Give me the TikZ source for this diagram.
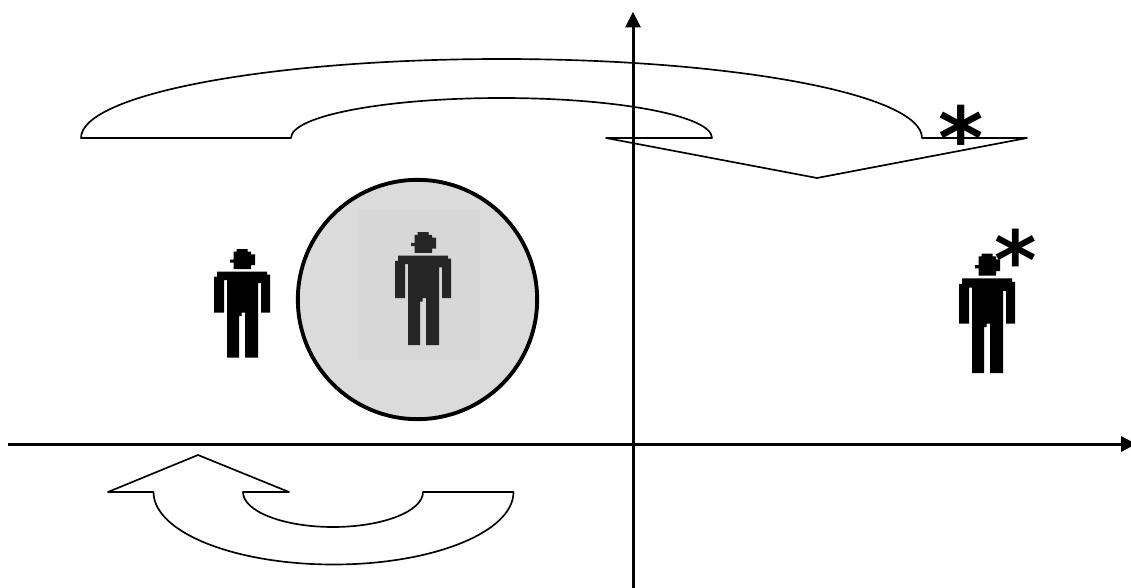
\documentclass[tikz,border=0pt]{standalone}
\usepackage{fontspec}
\setmainfont{DejaVu Sans}
\newcommand{\personshape}[1]{%
  \fill[#1] (3,22.7)--(53,22.7)--(53,25.7)--(56,25.7)--(56,63.7)--(47,63.7)--(47,34)--(44,34)--(44,108.7)--(31,108.7)--(31,63.7)--(27.7,63.7)--(27.7,67)--(25,67)--(25,108.7)--(13,108.7)--(13,31)--(10,31)--(10,63.7)--(0,63.7)--(0,27.7)--(3,27.7)--cycle;
  \fill[#1] (22.5,0)--(33.5,0)--(33.5,2.7)--(37,2.7)--(37,5.3)--(41,5.3)--(41,16)--(37,16)--(37,20)--(19.5,20)--(19.5,13.5)--(16,13.5)--(16,10.5)--(19.5,10.5)--(19.5,2.7)--(22.5,2.7)--cycle;
}
\tikzset{
  outline/.style={draw=black,line width=1.25pt,fill=none,line join=round},
  axis/.style={draw=black,line width=2.25pt},
  tip/.style={fill=black,draw=none},
  mark star/.style={font=\fontsize{#1}{#1}\selectfont\bfseries,inner sep=0pt,text=black}
}
\begin{document}
\begin{tikzpicture}[x=0.75pt,y=-0.75pt]
\useasboundingbox (0,0) rectangle (1131,588);
% circle with picture backdrop
\node[circle,draw=black,line width=2.9pt,fill=black!14,minimum size=179.5pt,inner sep=0pt] (disc) at (417.5,299.5) {};
\fill[black!15.5] (357,209) rectangle (480,360);
% persons
\begin{scope}[shift={(214,249)}]\personshape{black}\end{scope}
\begin{scope}[shift={(395,232)},yscale=1.04]\personshape{black!85}\end{scope}
\begin{scope}[shift={(959,253.5)},yscale=1.10]\personshape{black}\end{scope}
% axes
\coordinate (xs) at (8,444);
\coordinate (xe) at (1122,444);
\coordinate (xt) at (1136,444);
\coordinate (ys) at (633,588);
\coordinate (ye) at (633,27);
\coordinate (yt) at (633,12);
\draw[axis] (xs)--(xe);
\draw[axis] (ys)--(ye);
\fill[tip] (xt)--(1121,436)--(1121,452)--cycle;
\fill[tip] (yt)--(625,27.5)--(641,27.5)--cycle;
% top curved arrow
\draw[outline] (81,138) arc[start angle=180,end angle=360,x radius=420.5,y radius=79]
  -- (1027,138) -- (817,178) -- (606,138) -- (712,138)
  arc[start angle=360,end angle=180,x radius=210.5,y radius=40] -- cycle;
% bottom curved arrow
\draw[outline] (108,492) -- (198,455) -- (289,492) -- (243,492)
  arc[start angle=180,end angle=0,x radius=90,y radius=35] -- (513.5,492)
  arc[start angle=0,end angle=180,x radius=180,y radius=72.5] -- cycle;
% asterisks
\node[mark star=65pt] (s1) at (961.5,137) {*};
\node[mark star=61pt] (s2) at (1016,259.5) {*};
\end{tikzpicture}
\end{document}
